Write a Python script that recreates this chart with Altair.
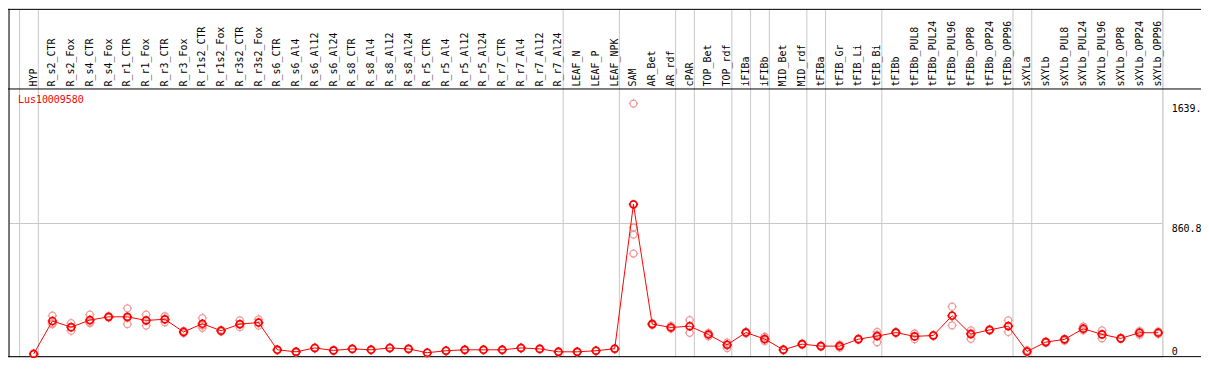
import altair as alt
import numpy as np
import pandas as pd

gene = "Lus10009580"

labels = [
    "HYP", "R_s2_CTR", "R_s2_Fox", "R_s4_CTR", "R_s4_Fox", "R_r1_CTR", "R_r1_Fox",
    "R_r3_CTR", "R_r3_Fox", "R_r1s2_CTR", "R_r1s2_Fox", "R_r3s2_CTR", "R_r3s2_Fox",
    "R_s6_CTR", "R_s6_Al4", "R_s6_Al12", "R_s6_Al24", "R_s8_CTR", "R_s8_Al4",
    "R_s8_Al12", "R_s8_Al24", "R_r5_CTR", "R_r5_Al4", "R_r5_Al12", "R_r5_Al24",
    "R_r7_CTR", "R_r7_Al4", "R_r7_Al12", "R_r7_Al24", "LEAF_N", "LEAF_P", "LEAF_NPK",
    "SAM", "AR_Bet", "AR_rdf", "cPAR", "TOP_Bet", "TOP_rdf", "iFIBa", "iFIBb",
    "MID_Bet", "MID_rdf", "tFIBa", "tFIB_Gr", "tFIB_Li", "tFIB_Bi", "tFIBb",
    "tFIBb_PUL8", "tFIBb_PUL24", "tFIBb_PUL96", "tFIBb_OPP8", "tFIBb_OPP24",
    "tFIBb_OPP96", "sXYLa", "sXYLb", "sXYLb_PUL8", "sXYLb_PUL24", "sXYLb_PUL96",
    "sXYLb_OPP8", "sXYLb_OPP24", "sXYLb_OPP96",
]

means = [
    14, 228, 188, 234, 255, 255, 232, 239, 157, 210, 165, 208, 218,
    41, 28, 53, 37, 47, 41, 53, 47, 22, 35, 41, 41, 41, 53, 47, 28,
    28, 35, 48,
    985, 208, 186, 194, 140, 74, 153, 111, 41, 78, 65, 65, 110, 130, 153,
    128, 134, 262, 143, 170, 195, 30, 91, 109, 178, 141, 115, 152, 152,
]

replicates = [
    [10, 18], [263, 213, 208], [214, 185, 165], [269, 220, 214], [260, 250],
    [310, 247, 208], [269, 230, 198], [259, 238, 220], [164, 150],
    [247, 199, 184], [171, 160], [232, 204, 188], [239, 217, 198],
    [44, 38], [31, 25], [56, 50], [40, 34], [50, 44], [43, 39], [56, 50],
    [50, 44], [24, 20], [38, 32], [44, 38], [43, 39], [44, 38], [56, 50],
    [50, 44], [31, 25], [30, 26], [38, 32], [51, 45],
    [1639, 834, 789, 665], [214, 202], [196, 178], [234, 194, 151],
    [150, 128], [88, 70, 53], [158, 148], [126, 110, 98], [45, 37], [82, 74],
    [69, 61], [74, 55], [114, 106], [157, 140, 90], [157, 149],
    [147, 128, 110], [138, 130], [321, 265, 200], [167, 150, 112], [174, 166],
    [232, 196, 157], [39, 24], [96, 86], [112, 100], [192, 176, 167],
    [167, 140, 116], [119, 111], [163, 152, 139], [160, 144],
]

group_sizes = [1, 28, 3, 3, 1, 2, 1, 1, 2, 1, 3, 7, 1, 7]
axis_values = [0, 860.8, 1639]
axis_texts = ["0", "860.8", "1639."]
grid_values = [860.8]

# ---- layout ----
W, H, HEAD = 1159, 350, 80
MONO = "DejaVu Sans Mono"
RED = "#ff0000"
PINK = "#ef9a9a"
GREY = "#c8c8c8"
MARK = ("M-1,0A1,1,0,1,1,1,0A1,1,0,1,1,-1,0Z"
        "M0,-1L0,-1.35M0,1L0,1.35M-1,0L-1.35,0M1,0L1.35,0")

df = pd.DataFrame({"idx": list(range(len(labels))), "label": labels, "mean": means})
df_rep = pd.DataFrame(
    [{"idx": i, "value": v} for i, rs in enumerate(replicates) for v in rs]
)
ends = np.cumsum(group_sizes) - 1
df_sep = pd.DataFrame({"pos": [-0.75] + [float(e) + 0.25 for e in ends]})
df_grid = pd.DataFrame({"v": grid_values})
one = alt.Data(values=[{"a": 1}])

label_map = "{" + ",".join(f"'{v}':'{t}'" for v, t in zip(axis_values, axis_texts)) + "}"

xs = alt.Scale(domain=[-1.316, 60.21], nice=False, zero=False)
ys = alt.Scale(domain=[0, 1737], range=[H - 1, HEAD], nice=False, zero=False)

yaxis = alt.Axis(
    orient="right",
    values=axis_values,
    labelExpr=label_map + "[datum.value + '']",
    labelFont=MONO,
    labelFontSize=10,
    labelColor="black",
    labelPadding=9,
    labelAlign="left",
    labelBaseline={"condition": {"test": "datum.value == 0", "value": "bottom"},
                   "value": "top"},
    labelOverlap=False,
    labelFlush=False,
    labelBound=False,
    ticks=False,
    domain=False,
    grid=False,
    title=None,
)

seps = alt.Chart(df_sep).mark_rule(color=GREY, strokeWidth=1).encode(
    x=alt.X("pos:Q", scale=xs, axis=None),
    y=alt.value(0),
    y2=alt.value(H),
)

grid = alt.Chart(df_grid).mark_rule(color=GREY, strokeWidth=1).encode(
    y=alt.Y("v:Q", scale=ys, axis=yaxis),
    x=alt.value(0),
    x2=alt.value(W),
)

def hline(ypix):
    return alt.Chart(one).mark_rule(color="black", strokeWidth=1).encode(
        y=alt.value(ypix), x=alt.value(-1), x2=alt.value(W + 40)
    )

left_border = alt.Chart(one).mark_rule(color="black", strokeWidth=1).encode(
    x=alt.value(0), y=alt.value(0), y2=alt.value(H)
)

reps = alt.Chart(df_rep).mark_point(
    shape=MARK, size=49, filled=False, color=PINK, strokeWidth=1.3, opacity=1
).encode(
    x=alt.X("idx:Q", scale=xs, axis=None),
    y=alt.Y("value:Q", scale=ys, axis=yaxis),
)

line = alt.Chart(df).mark_line(color=RED, strokeWidth=1).encode(
    x=alt.X("idx:Q", scale=xs, axis=None),
    y=alt.Y("mean:Q", scale=ys, axis=yaxis),
)

pts = alt.Chart(df).mark_point(
    shape=MARK, size=49, filled=False, color=RED, strokeWidth=1.7, opacity=1
).encode(
    x=alt.X("idx:Q", scale=xs, axis=None),
    y=alt.Y("mean:Q", scale=ys, axis=yaxis),
)

heads = alt.Chart(df).mark_text(
    angle=270, align="left", baseline="middle", font=MONO, fontSize=10,
    color="black",
).encode(
    x=alt.X("idx:Q", scale=xs, axis=None),
    y=alt.value(HEAD - 2),
    text="label:N",
)

gene_label = alt.Chart(alt.Data(values=[{"g": gene}])).mark_text(
    align="left", baseline="middle", font=MONO, fontSize=10, color=RED,
).encode(
    x=alt.value(9), y=alt.value(HEAD + 12), text="g:N"
)

chart = alt.layer(
    seps, grid, hline(0.5), hline(HEAD + 0.5), hline(H - 0.5), left_border,
    reps, line, pts, heads, gene_label,
).properties(
    width=W, height=H,
    autosize=alt.AutoSizeParams(type="none"),
    padding={"left": 1, "top": 0, "right": 39, "bottom": 0},
).configure_view(stroke=None).configure(background="white")

chart.save("out.html", embed_options={"renderer": "svg", "actions": False})
